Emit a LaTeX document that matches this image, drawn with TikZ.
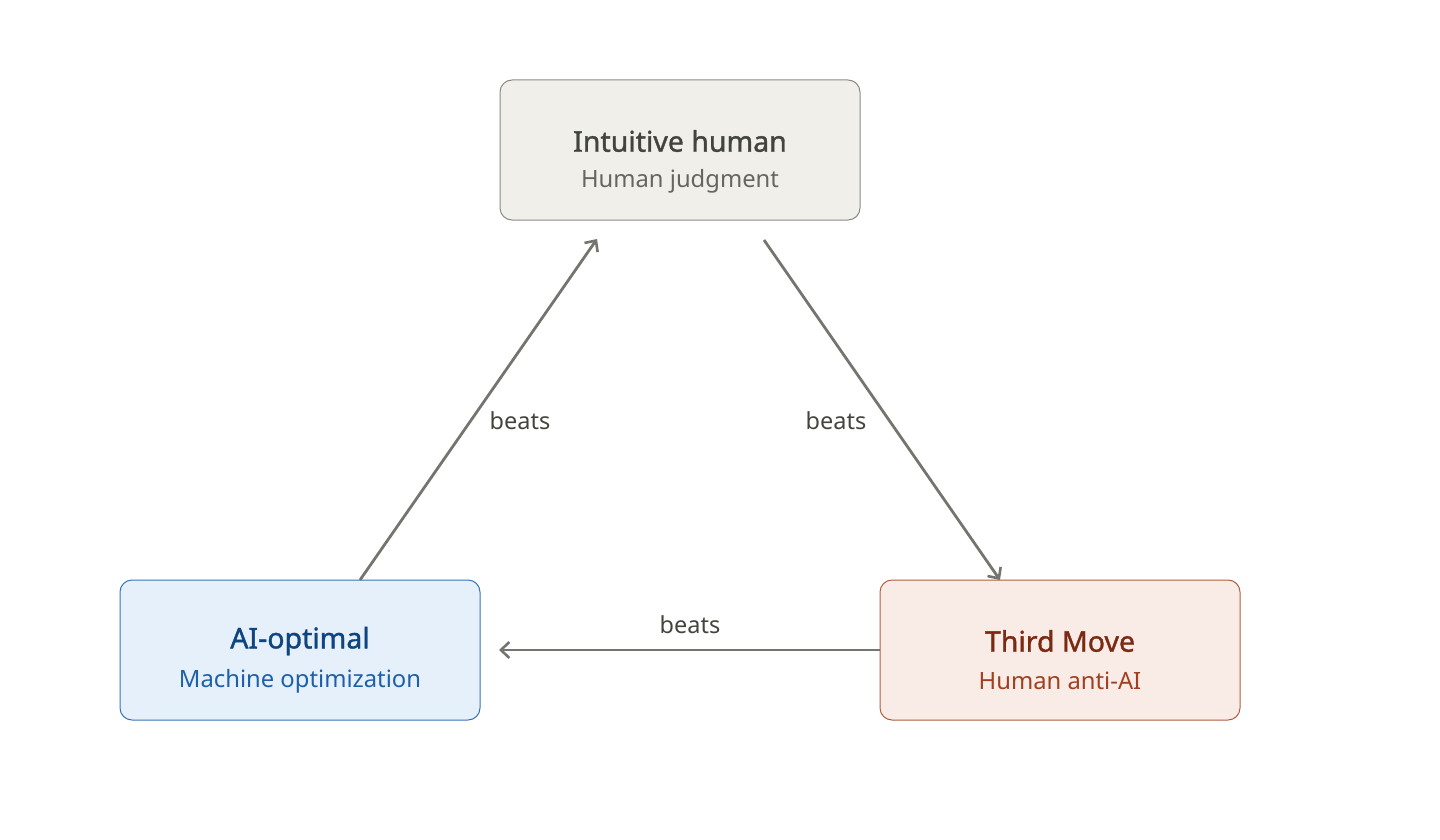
\documentclass[tikz,border=0pt]{standalone}
\usepackage{fontspec}
\setmainfont{Noto Sans}
\usetikzlibrary{arrows.meta}
\definecolor{gfill}{HTML}{F1EFE9}
\definecolor{gline}{HTML}{8A8A84}
\definecolor{gtitle}{HTML}{44443F}
\definecolor{gsub}{HTML}{66665F}
\definecolor{bfill}{HTML}{E6F0FB}
\definecolor{bline}{HTML}{3A74B8}
\definecolor{btitle}{HTML}{0E4580}
\definecolor{bsub}{HTML}{1D5FA8}
\definecolor{rfill}{HTML}{F9EBE6}
\definecolor{rline}{HTML}{B0603F}
\definecolor{rtitle}{HTML}{7A2A12}
\definecolor{rsub}{HTML}{A0401F}
\definecolor{arr}{HTML}{75756F}
\definecolor{lbl}{HTML}{44443F}
\tikzset{
  card/.style={rounded corners=12pt, line width=1pt, minimum width=360pt, minimum height=140pt, inner sep=0pt},
  ttl/.style={font=\fontsize{28.5}{32}\selectfont\addfontfeature{FakeBold=1.2}, anchor=center},
  sub/.style={font=\fontsize{23.8}{28}\selectfont, anchor=center},
  conn/.style={draw=arr, line width=2.8pt, -{Straight Barb[length=8.5pt,width=16pt,line width=2.6pt]}},
  lab/.style={font=\fontsize{23.5}{28}\selectfont, text=lbl, anchor=center}
}
\begin{document}
\begin{tikzpicture}[x=1pt,y=-1pt]
\useasboundingbox (0,0) rectangle (1440,840);
\node[card, draw=gline, fill=gfill] (top) at (680,150) {};
\node[card, draw=bline, fill=bfill] (left) at (300,650) {};
\node[card, draw=rline, fill=rfill] (right) at (1060,650) {};
\node[ttl, text=gtitle] (toptitle) at (680,141) {Intuitive human};
\node[sub, text=gsub] (topsub) at (680,181) {Human judgment};
\node[ttl, text=btitle] (lefttitle) at (300,641) {AI-optimal};
\node[sub, text=bsub] (leftsub) at (300,681) {Machine optimization};
\node[ttl, text=rtitle] (righttitle) at (1060,641) {Third Move};
\node[sub, text=rsub] (rightsub) at (1060,681) {Human anti-AI};
\coordinate (a1s) at (360,580);
\coordinate (a1e) at (597,239);
\coordinate (a2s) at (764,240);
\coordinate (a2e) at (1000,580);
\coordinate (a3s) at (880,650);
\coordinate (a3e) at (499,650);
\draw[conn] (a1s) -- (a1e);
\draw[conn] (a2s) -- (a2e);
\draw[conn] (a3s) -- (a3e);
\node[lab] (l1) at (520,421) {beats};
\node[lab] (l2) at (836,421) {beats};
\node[lab] (l3) at (690,625) {beats};
\end{tikzpicture}
\end{document}
